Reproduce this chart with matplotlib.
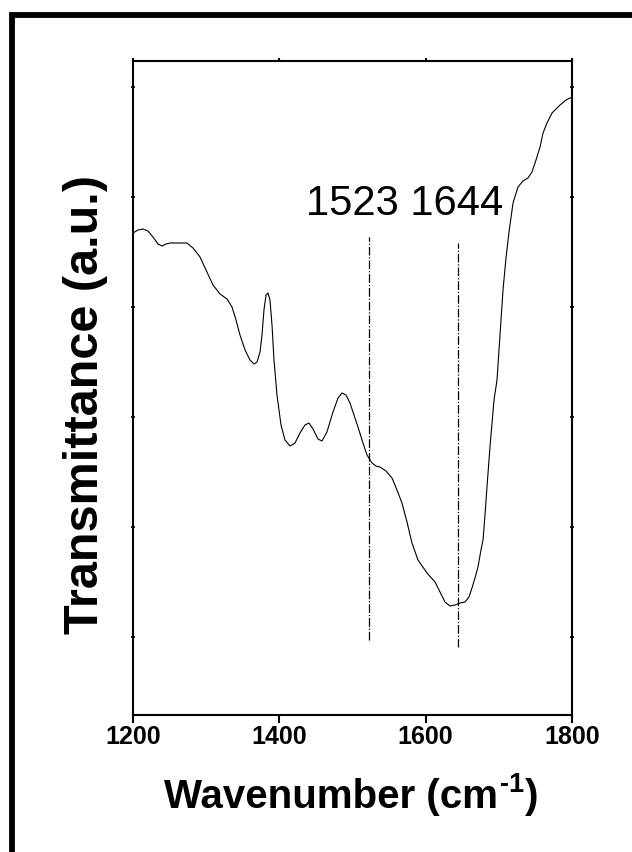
import matplotlib
matplotlib.use("Agg")
import matplotlib.pyplot as plt
from matplotlib.patches import Rectangle

plt.rcParams["font.family"] = ["Liberation Sans", "DejaVu Sans"]

# FTIR spectrum, amide region
wavenumber = [
    1200.0, 1206.8, 1213.7, 1220.5, 1227.3, 1234.2, 1239.6, 1245.1, 1250.6, 1261.5,
    1273.8, 1282.0, 1291.6, 1299.8, 1309.3, 1318.9, 1328.5, 1335.3, 1340.8, 1346.2,
    1353.1, 1359.9, 1365.4, 1369.5, 1373.6, 1376.3, 1379.0, 1381.8, 1384.5, 1387.2,
    1390.0, 1392.7, 1396.8, 1402.3, 1407.7, 1414.6, 1421.4, 1428.2, 1435.1, 1440.5,
    1446.0, 1452.8, 1458.3, 1465.1, 1473.3, 1480.2, 1485.6, 1491.1, 1496.6, 1502.0,
    1507.5, 1514.3, 1519.8, 1526.7, 1532.1, 1537.6, 1545.8, 1554.0, 1560.8, 1567.6,
    1574.5, 1581.3, 1589.5, 1601.8, 1612.8, 1619.6, 1626.4, 1633.3, 1640.1, 1646.9,
    1653.8, 1659.2, 1663.3, 1667.4, 1671.5, 1675.6, 1678.4, 1681.1, 1683.8, 1687.9,
    1693.4, 1697.5, 1701.6, 1705.7, 1709.8, 1713.9, 1719.4, 1726.2, 1733.0, 1739.8,
    1745.3, 1750.8, 1756.3, 1760.4, 1765.8, 1772.7, 1783.6, 1791.8, 1800.0,
]
transmittance = [
    482, 485, 486, 484, 478, 471, 469, 471, 472, 472,
    472, 467, 458, 445, 430, 421, 416, 408, 395, 380,
    365, 355, 351, 353, 363, 380, 405, 420, 422, 415,
    390, 355, 320, 290, 275, 269, 272, 282, 290, 292,
    286, 276, 274, 283, 303, 317, 322, 320, 312, 300,
    288, 272, 260, 252, 249, 248, 244, 237, 225, 212,
    193, 172, 155, 142, 133, 123, 113, 109, 110, 112,
    113, 118, 127, 137, 148, 165, 175, 200, 228, 268,
    315, 335, 380, 425, 457, 483, 512, 528, 534, 537,
    543, 555, 568, 582, 592, 602, 610, 615, 618,
]

# Marked band positions and the extent of their guide lines
band_positions = [1523, 1644]
band_tops = [478, 472]
band_bottoms = [75, 68]
band_label = "1523 1644"

x_ticks = [1200, 1400, 1600, 1800]
y_ticks = [78, 188, 298, 408, 518, 628]

W, H = 632, 852
fig = plt.figure(figsize=(W / 100, H / 100), dpi=100)
ax = fig.add_axes([133 / W, 137 / H, 439 / W, 654 / H])

ax.plot(wavenumber, transmittance, color="black", lw=0.8)
for pos, top, bot in zip(band_positions, band_tops, band_bottoms):
    ax.plot([pos, pos], [bot, top], color="black", lw=0.9,
            linestyle=(0, (7, 1.5, 1, 1.5)))

ax.text(1571.8, 500, band_label, fontsize=30, ha="center", va="baseline")

ax.set_xlim(1200, 1800)
ax.set_ylim(0, 654)
ax.set_xticks(x_ticks)
ax.set_xticklabels([str(t) for t in x_ticks], fontsize=18, fontweight="bold")
ax.set_yticks(y_ticks)
ax.set_yticklabels([])

for s in ax.spines.values():
    s.set_linewidth(1.5)

ax.tick_params(axis="x", which="major", bottom=True, direction="out",
               length=6, width=1.5, pad=1)
ax.tick_params(axis="x", top=True, labeltop=False)
ax.tick_params(axis="y", left=True, right=True, direction="inout", length=3, width=1.2)
for t in ax.xaxis.get_major_ticks():
    t.tick2line.set_markersize(2)
    t.tick2line.set_marker(2)

# x label built from pieces so the superscript keeps a plain hyphen
renderer = fig.canvas.get_renderer()
base_y = 1 - 808 / H
parts = [("Wavenumber (cm", 29, 0.0, 2), ("-1", 19.5, 16 / H, 1), (")", 29, 0.0, 0)]
texts = []
gaps = []
for s, size, dy, gap in parts:
    texts.append(fig.text(0, base_y + dy, s, fontsize=size, fontweight="bold",
                          ha="left", va="baseline"))
    gaps.append(gap)
widths = [t.get_window_extent(renderer).width for t in texts]
total = sum(widths) + sum(gaps)
x = 351 - total / 2
for t, w, g in zip(texts, widths, gaps):
    t.set_x(x / W)
    x += w + g

fig.text(86 / W, 1 - 404 / H, "Transmittance (a.u.)", fontsize=35,
         fontweight="bold", ha="center", va="center", rotation=90)

# outer frame, open at right and bottom
fig.add_artist(Rectangle((12 / W, -0.5), 2.0, 0.5 + (H - 14.5) / H,
                         transform=fig.transFigure, fill=False,
                         edgecolor="black", lw=4.2, clip_on=False))

fig.savefig("out.png", dpi=100)
